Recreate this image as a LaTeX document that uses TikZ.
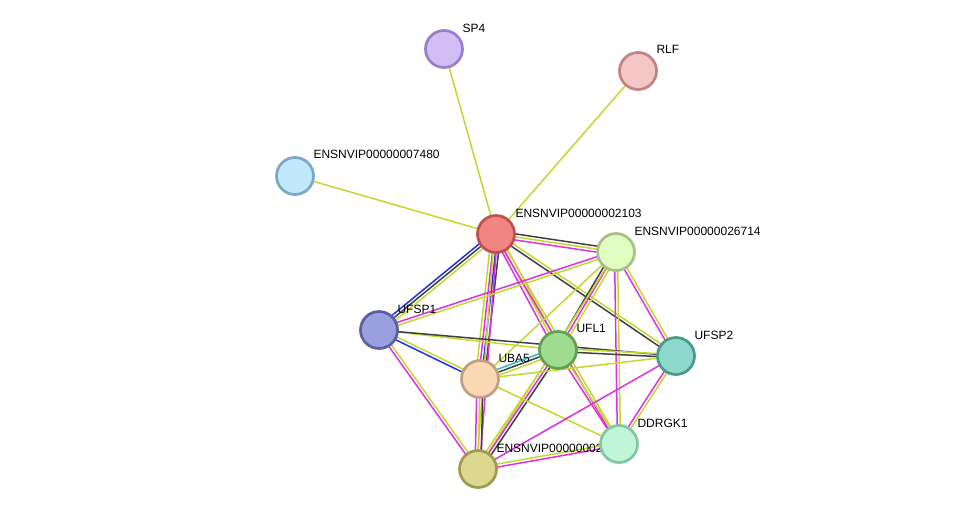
\documentclass[tikz,border=0pt]{standalone}
\usepackage{fontspec}
\setmainfont{Liberation Sans}
\usetikzlibrary{calc}
\definecolor{yg}{HTML}{C2D82E}
\definecolor{mg}{HTML}{E02FE0}
\definecolor{bl}{HTML}{2030F0}
\definecolor{bk}{HTML}{404040}
\definecolor{cy}{HTML}{30B8D8}
\definecolor{fSP}{HTML}{D2BEF5}\definecolor{dSP}{HTML}{9A80CC}
\definecolor{fRL}{HTML}{F5C6C6}\definecolor{dRL}{HTML}{C08484}
\definecolor{f74}{HTML}{C2E8FB}\definecolor{d74}{HTML}{7AA8C8}
\definecolor{f21}{HTML}{F28482}\definecolor{d21}{HTML}{C05050}
\definecolor{f26}{HTML}{E0FCC0}\definecolor{d26}{HTML}{A8C088}
\definecolor{fU1}{HTML}{9AA0DE}\definecolor{dU1}{HTML}{5860A0}
\definecolor{fUF}{HTML}{9EDC90}\definecolor{dUF}{HTML}{60A050}
\definecolor{fU2}{HTML}{8DD8CC}\definecolor{dU2}{HTML}{4A9A8A}
\definecolor{fUB}{HTML}{FBD8B4}\definecolor{dUB}{HTML}{C0A080}
\definecolor{fEB}{HTML}{DDD890}\definecolor{dEB}{HTML}{A09A50}
\definecolor{fDD}{HTML}{C0F5D8}\definecolor{dDD}{HTML}{80C8A0}
\newcommand\myedge[4]{\foreach \cc [count=\i] in {#4}{%
 \pgfmathsetmacro\oo{(\i-1-(#3-1)/2)*3}%
 \draw[\cc,line width=1.5pt] ($(#1)!\oo pt!90:(#2)$) -- ($(#2)!\oo pt!-90:(#1)$);}}
\tikzset{prot/.style n args={2}{circle,minimum size=37pt,inner sep=0pt,line width=2.7pt,fill=#1,draw=#2},
 lab/.style={anchor=west,font=\fontsize{12}{12}\selectfont}}
\begin{document}
\begin{tikzpicture}[x=1pt,y=-1pt]
\useasboundingbox (0,0) rectangle (975,515);
\coordinate (SP4) at (444,49);
\coordinate (RLF) at (638,71);
\coordinate (E74) at (295,176);
\coordinate (E21) at (496,234);
\coordinate (E26) at (616,252);
\coordinate (UFSP1) at (379,330);
\coordinate (UFL1) at (558,350);
\coordinate (UFSP2) at (676,356);
\coordinate (UBA5) at (480,379);
\coordinate (EB) at (478,469);
\coordinate (DDR) at (619,444);
\myedge{E21}{SP4}{1}{yg}
\myedge{E21}{RLF}{1}{yg}
\myedge{E21}{E74}{1}{yg}
\myedge{E21}{E26}{3}{mg,yg,bk}
\myedge{E21}{UFSP1}{3}{bl,bk,yg}
\myedge{E21}{UBA5}{4}{yg,mg,bl,bk}
\myedge{E21}{UFL1}{3}{mg,yg,yg}
\myedge{E21}{UFSP2}{2}{bk,yg}
\myedge{E21}{EB}{2}{yg,mg}
\myedge{E21}{DDR}{2}{mg,yg}
\myedge{E26}{UFSP1}{2}{mg,yg}
\myedge{E26}{UBA5}{1}{yg}
\myedge{E26}{UFL1}{3}{bk,mg,yg}
\myedge{E26}{UFSP2}{2}{mg,yg}
\myedge{E26}{DDR}{2}{mg,yg}
\myedge{E26}{EB}{1}{yg}
\myedge{UFSP1}{UFL1}{1}{yg}
\myedge{UFSP1}{UFSP2}{1}{bk}
\myedge{UFSP1}{UBA5}{2}{bl,yg}
\myedge{UFSP1}{EB}{2}{mg,yg}
\myedge{UFL1}{UBA5}{3}{cy,bk,yg}
\myedge{UFL1}{UFSP2}{2}{bk,yg}
\myedge{UFL1}{EB}{3}{yg,mg,bk}
\myedge{UFL1}{DDR}{2}{mg,yg}
\myedge{UBA5}{UFSP2}{1}{yg}
\myedge{UBA5}{EB}{3}{mg,yg,bk}
\myedge{UBA5}{DDR}{1}{yg}
\myedge{UFSP2}{DDR}{2}{mg,yg}
\myedge{UFSP2}{EB}{1}{mg}
\myedge{EB}{DDR}{2}{mg,yg}
\node[lab] (lSP4) at (459,28) {SP4};
\node[lab] (lRLF) at (653,49) {RLF};
\node[lab] (l74) at (310,154) {ENSNVIP00000007480};
\node[lab] (l21) at (512,213) {ENSNVIP00000002103};
\node[lab] (l26) at (631,231) {ENSNVIP00000026714};
\node[lab] (lU1) at (394,309) {UFSP1};
\node[lab] (lUF) at (573,328) {UFL1};
\node[lab] (lU2) at (691,335) {UFSP2};
\node[lab] (lUB) at (495,358) {UBA5};
\node[lab] (lEB) at (493,448) {ENSNVIP00000002};
\node[lab] (lDD) at (634,423) {DDRGK1};
\node[prot={fSP}{dSP}] (n1) at (SP4) {};
\node[prot={fRL}{dRL}] (n2) at (RLF) {};
\node[prot={f74}{d74}] (n3) at (E74) {};
\node[prot={f21}{d21}] (n4) at (E21) {};
\node[prot={f26}{d26}] (n5) at (E26) {};
\node[prot={fU1}{dU1}] (n6) at (UFSP1) {};
\node[prot={fUF}{dUF}] (n7) at (UFL1) {};
\node[prot={fU2}{dU2}] (n8) at (UFSP2) {};
\node[prot={fUB}{dUB}] (n9) at (UBA5) {};
\node[prot={fEB}{dEB}] (n10) at (EB) {};
\node[prot={fDD}{dDD}] (n11) at (DDR) {};
\end{tikzpicture}
\end{document}
